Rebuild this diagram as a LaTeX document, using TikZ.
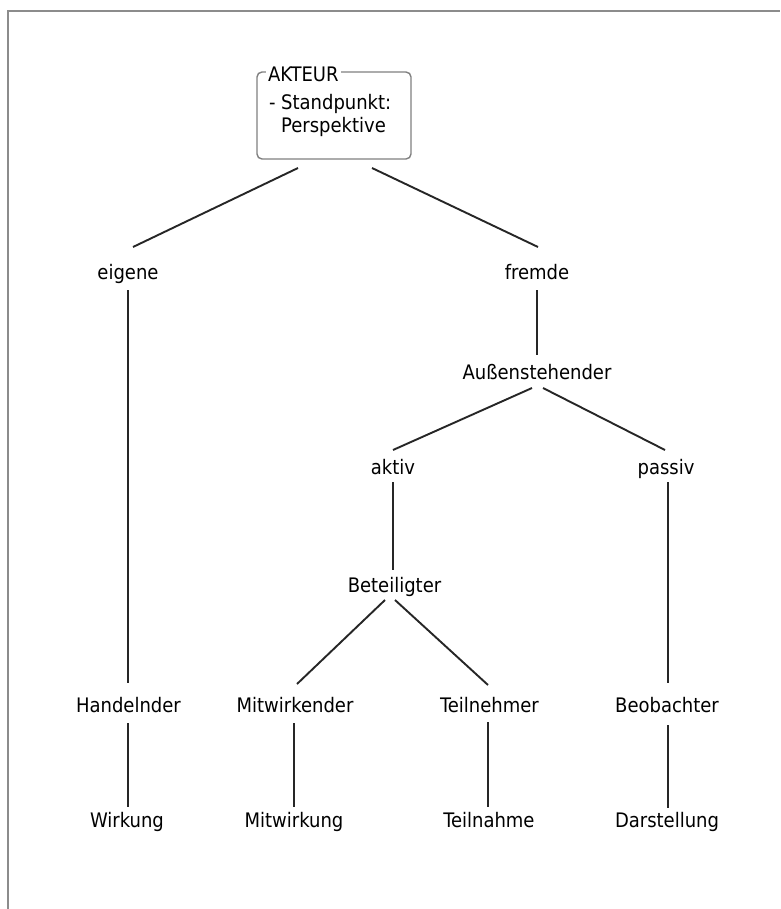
\documentclass[tikz,border=0pt]{standalone}
\usepackage{fontspec}
\setmainfont{DejaVu Sans Condensed}
\begin{document}
\begin{tikzpicture}[x=1pt,y=-1pt,
  every node/.style={inner sep=0pt, outer sep=0pt, text=black, font=\fontsize{20}{23}\selectfont},
  term/.style={anchor=base},
  link/.style={draw=black!85, line width=1.9pt},
  frameline/.style={draw=black!45, line width=2pt},
  groupbox/.style={draw=black!50, line width=1.4pt, rounded corners=5pt, minimum width=154pt, minimum height=87pt}]
\useasboundingbox (0,0) rectangle (780,909);
\fill[white] (0,0) rectangle (780,909);

% outer frame (left and top edges)
\draw[frameline] (8,909) -- (8,11) -- (780,11);

% actor box with its legend
\node[groupbox] (box) at (334,115.5) {};
\node[anchor=base west, fill=white, inner xsep=2pt] (boxtitle) at (266,82) {AKTEUR};
\node[anchor=base west, align=left] (boxtext) at (269,133) {- Standpunkt:\\\phantom{- }Perspektive};

% tree of perspectives
\node[term] (eigene) at (128,279) {eigene};
\node[term] (fremde) at (537,279) {fremde};
\node[term] (auss) at (537,379) {Außenstehender};
\node[term] (aktiv) at (393,474) {aktiv};
\node[term] (passiv) at (666,474) {passiv};
\node[term] (bet) at (394.5,592) {Beteiligter};
\node[term] (handeln) at (128.5,712) {Handelnder};
\node[term] (mitwirkender) at (295,712) {Mitwirkender};
\node[term] (teilnehmer) at (489.5,712) {Teilnehmer};
\node[term] (beobachter) at (667,712) {Beobachter};
\node[term] (wirkung) at (127,827) {Wirkung};
\node[term] (mitwirkung) at (294,827) {Mitwirkung};
\node[term] (teilnahme) at (489,827) {Teilnahme};
\node[term] (darstellung) at (667,827) {Darstellung};

% connectors
\draw[link] ([shift={(-36,9)}]box.south) -- ([shift={(5,-32)}]eigene.base);
\draw[link] ([shift={(38,9)}]box.south) -- ([shift={(1,-32)}]fremde.base);
\draw[link] ([shift={(0,11)}]fremde.base) -- ([shift={(0,-24)}]auss.base);
\draw[link] ([shift={(-5,9)}]auss.base) -- ([shift={(0,-24)}]aktiv.base);
\draw[link] ([shift={(6,9)}]auss.base) -- ([shift={(-1,-24)}]passiv.base);
\draw[link] ([shift={(0,8)}]aktiv.base) -- ([shift={(-1.5,-22)}]bet.base);
\draw[link] ([shift={(2,8)}]passiv.base) -- ([shift={(1,-29)}]beobachter.base);
\draw[link] ([shift={(-9.5,8)}]bet.base) -- ([shift={(2,-28)}]mitwirkender.base);
\draw[link] ([shift={(0.5,8)}]bet.base) -- ([shift={(-1.5,-27)}]teilnehmer.base);
\draw[link] ([shift={(0,11)}]eigene.base) -- ([shift={(-0.5,-29)}]handeln.base);
\draw[link] ([shift={(-0.5,11)}]handeln.base) -- ([shift={(1,-20)}]wirkung.base);
\draw[link] ([shift={(-1,11)}]mitwirkender.base) -- ([shift={(0,-20)}]mitwirkung.base);
\draw[link] ([shift={(-1.5,10)}]teilnehmer.base) -- ([shift={(-1,-20)}]teilnahme.base);
\draw[link] ([shift={(1,13)}]beobachter.base) -- ([shift={(1,-19)}]darstellung.base);
\end{tikzpicture}
\end{document}
